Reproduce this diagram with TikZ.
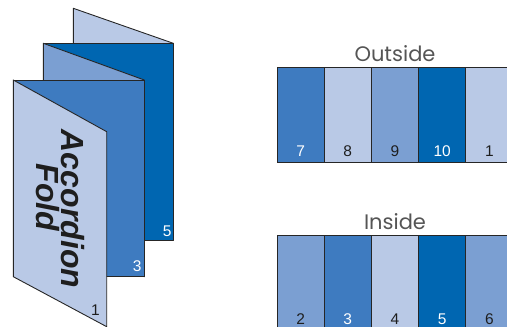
\documentclass[tikz,border=0pt]{standalone}
\usepackage{fontspec}
\setmainfont{Liberation Sans}
\newfontfamily\headfont{Poppins}
\usetikzlibrary{positioning}

\definecolor{foldlight}{HTML}{B9C9E6}
\definecolor{foldmedium}{HTML}{7B9FD2}
\definecolor{foldmid}{HTML}{3E7BC0}
\definecolor{folddark}{HTML}{0066B1}
\definecolor{edgegray}{HTML}{262626}
\definecolor{inkdark}{HTML}{1E1E1E}
\definecolor{titlegray}{HTML}{555555}

\begin{document}
\begin{tikzpicture}[x=1pt, y=-1pt,
    panel/.style={draw=edgegray, line width=0.9pt, minimum width=47.2pt, minimum height=95pt, inner sep=0pt, outer sep=0pt},
    sheet/.style={draw=edgegray, line width=0.9pt, line join=round},
    pagenum/.style={font=\fontsize{15.5}{16}\selectfont, inner sep=0pt, anchor=base},
    sidetitle/.style={font=\headfont\fontsize{21}{22}\selectfont, text=titlegray, inner sep=0pt, anchor=base},
    foldtext/.style={font=\bfseries\itshape\fontsize{32}{32}\selectfont, text=inkdark, inner sep=0pt, rotate=-90, anchor=base}]

      % Fix the frame of the picture
      \useasboundingbox (0,0) rectangle (507,327);
      \clip (0,0) rectangle (507,327);

      % Draw the folded sheets, back to front
      \draw[sheet, fill=foldlight] (73.3,8.3) -- (173.3,43.3) -- (173.3,240) -- (73.3,205) -- cycle;
      \draw[sheet, fill=folddark] (43.3,43.3) rectangle (173.3,240);
      \draw[sheet, fill=foldmedium] (43.3,43.3) -- (144.3,80) -- (144.3,276.7) -- (43.3,240) -- cycle;
      \draw[sheet, fill=foldmid] (13.3,80) rectangle (144.3,276.7);
      \draw[sheet, fill=foldlight] (13.3,80) -- (106.7,131.7) -- (106.7,326.7) -- (13.3,276.7) -- cycle;

      % Label the folded sheets
      \node[pagenum, text=inkdark, anchor=base east] (p1) at (100,315) {1};
      \node[pagenum, text=white, anchor=base east] (p3) at (141.7,271.7) {3};
      \node[pagenum, text=white, anchor=base east] (p5) at (171.7,236) {5};
      \node[foldtext] (accordion) at (61,209) {Accordion};
      \node[foldtext] (fold) at (36.7,197.5) {Fold};

      % Draw the outside strip
      \node[panel, fill=foldmid, anchor=north west] (o7) at (277,67) {};
      \node[panel, fill=foldlight, right=0pt of o7] (o8) {};
      \node[panel, fill=foldmedium, right=0pt of o8] (o9) {};
      \node[panel, fill=folddark, right=0pt of o9] (o10) {};
      \node[panel, fill=foldlight, right=0pt of o10] (o1) {};
      \node[sidetitle] (outside) at ([yshift=5.5pt]o9.north) {Outside};

      % Number the outside strip
      \node[pagenum, text=white] (n7) at ([yshift=-89pt]o7.north) {7};
      \node[pagenum, text=inkdark] (n8) at ([yshift=-89pt]o8.north) {8};
      \node[pagenum, text=inkdark] (n9) at ([yshift=-89pt]o9.north) {9};
      \node[pagenum, text=white] (n10) at ([yshift=-89pt]o10.north) {10};
      \node[pagenum, text=inkdark] (n1) at ([yshift=-89pt]o1.north) {1};

      % Draw the inside strip
      \node[panel, fill=foldmedium, anchor=north west] (i2) at (277,235) {};
      \node[panel, fill=foldmid, right=0pt of i2] (i3) {};
      \node[panel, fill=foldlight, right=0pt of i3] (i4) {};
      \node[panel, fill=folddark, right=0pt of i4] (i5) {};
      \node[panel, fill=foldmedium, right=0pt of i5] (i6) {};
      \node[sidetitle] (inside) at ([yshift=5.5pt]i4.north) {Inside};

      % Number the inside strip
      \node[pagenum, text=inkdark] (m2) at ([yshift=-89pt]i2.north) {2};
      \node[pagenum, text=white] (m3) at ([yshift=-89pt]i3.north) {3};
      \node[pagenum, text=inkdark] (m4) at ([yshift=-89pt]i4.north) {4};
      \node[pagenum, text=white] (m5) at ([yshift=-89pt]i5.north) {5};
      \node[pagenum, text=inkdark] (m6) at ([yshift=-89pt]i6.north) {6};
    \end{tikzpicture}
\end{document}
